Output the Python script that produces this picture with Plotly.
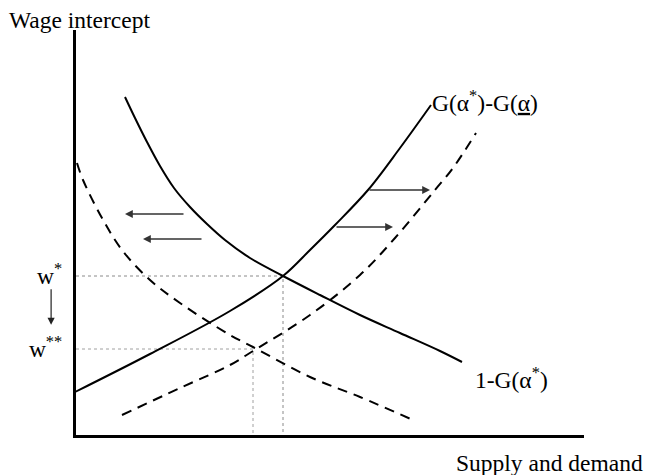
import plotly.graph_objects as go

# curves (quantity, wage)
demand_q = [0.49, 0.59, 0.71, 0.84, 0.98, 1.14, 1.31, 1.49, 1.74, 2.07, 2.44, 2.84, 3.24, 3.64, 3.86]
demand_w = [3.38, 3.17, 2.93, 2.69, 2.47, 2.28, 2.11, 1.95, 1.77, 1.59, 1.40, 1.20, 1.02, 0.84, 0.73]

demand2_q = [0.01, 0.07, 0.26, 0.46, 0.74, 1.04, 1.54, 1.77, 2.34, 2.84, 3.37]
demand2_w = [2.72, 2.55, 2.17, 1.85, 1.55, 1.32, 1.00, 0.88, 0.58, 0.38, 0.15]

supply_q = [-0.01, 0.74, 1.54, 2.07, 2.34, 2.59, 2.92, 3.24, 3.55]
supply_w = [0.43, 0.81, 1.24, 1.59, 1.85, 2.10, 2.45, 2.87, 3.30]

supply2_q = [0.46, 1.04, 1.54, 1.77, 2.34, 2.84, 3.19, 3.59, 3.77, 4.00]
supply2_w = [0.20, 0.47, 0.70, 0.84, 1.20, 1.60, 1.97, 2.45, 2.67, 3.02]

# equilibria
q_star, w_star = 2.07, 1.59
q_star2, w_star2 = 1.77, 0.86

# shift arrows: (from_q, to_q, w)
left_arrows = [(1.09, 0.49, 2.21), (1.27, 0.67, 1.96)]
right_arrows = [(2.59, 3.17, 2.08), (2.92, 3.54, 2.45)]

serif = "Liberation Serif, Times New Roman, serif"
fsize = 23.5

fig = go.Figure()

# guide lines
fig.add_trace(go.Scatter(x=[0, q_star, q_star], y=[w_star, w_star, 0], mode="lines",
                         line=dict(color="#8a8a8a", width=1, dash="dot"), hoverinfo="skip"))
fig.add_trace(go.Scatter(x=[0, q_star2, q_star2], y=[w_star2, w_star2, 0], mode="lines",
                         line=dict(color="#a0a0a0", width=1, dash="dot"), hoverinfo="skip"))

fig.add_trace(go.Scatter(x=demand_q, y=demand_w, mode="lines", line_shape="spline",
                         line=dict(color="black", width=2)))
fig.add_trace(go.Scatter(x=supply_q, y=supply_w, mode="lines", line_shape="spline",
                         line=dict(color="black", width=2)))
fig.add_trace(go.Scatter(x=demand2_q, y=demand2_w, mode="lines", line_shape="spline",
                         line=dict(color="black", width=2, dash="10px,7px")))
fig.add_trace(go.Scatter(x=supply2_q, y=supply2_w, mode="lines", line_shape="spline",
                         line=dict(color="black", width=2, dash="10px,7px")))

for q0, q1, w in left_arrows + right_arrows:
    fig.add_annotation(x=q1, y=w, ax=q0, ay=w, xref="x", yref="y", axref="x", ayref="y",
                       text="", showarrow=True, arrowhead=2, arrowsize=1.2,
                       arrowwidth=1.3, arrowcolor="#333")

# w* -> w** arrow (left of the axis, so paper coords)
fig.add_annotation(x=-0.049, y=0.272, ax=0, ay=-37, xref="paper", yref="paper",
                   axref="pixel", ayref="pixel",
                   text="", showarrow=True, arrowhead=2, arrowsize=1.2,
                   arrowwidth=1.2, arrowcolor="#222")

# curve labels
for txt, x, y in [("1-G(α<sup>*</sup>)", 3.97, 0.57),
                  ("G(α<sup>*</sup>)-G(<u>α</u>)", 3.54, 3.34)]:
    fig.add_annotation(x=x, y=y, xref="x", yref="y", text=txt, showarrow=False,
                       xanchor="left", yanchor="middle",
                       font=dict(family=serif, size=fsize, color="black"))

# axis titles
fig.add_annotation(x=-0.135, y=1.024, xref="paper", yref="paper", text="Wage intercept",
                   showarrow=False, xanchor="left", yanchor="middle",
                   font=dict(family=serif, size=fsize, color="black"))
fig.add_annotation(x=0.745, y=-0.069, xref="paper", yref="paper", text="Supply and demand",
                   showarrow=False, xanchor="left", yanchor="middle",
                   font=dict(family=serif, size=fsize, color="black"))

fig.update_xaxes(range=[0, 5.08], showgrid=False, zeroline=False, showticklabels=False,
                 showline=True, linewidth=3, linecolor="black", ticks="")
fig.update_yaxes(range=[0, 4.05], showgrid=False, zeroline=False,
                 tickvals=[w_star, w_star2], ticktext=["w<sup>*</sup>", "w<sup>**</sup>"],
                 tickfont=dict(family=serif, size=fsize, color="black"),
                 showline=True, linewidth=3, linecolor="black", ticks="", ticklabelstandoff=6)

# page body has an 8px margin, so the figure is 8px smaller than the window
fig.update_layout(width=645, height=467, margin=dict(l=68, r=69, t=22, b=40),
                  plot_bgcolor="white", paper_bgcolor="white", showlegend=False)

fig.write_html("out.html")
